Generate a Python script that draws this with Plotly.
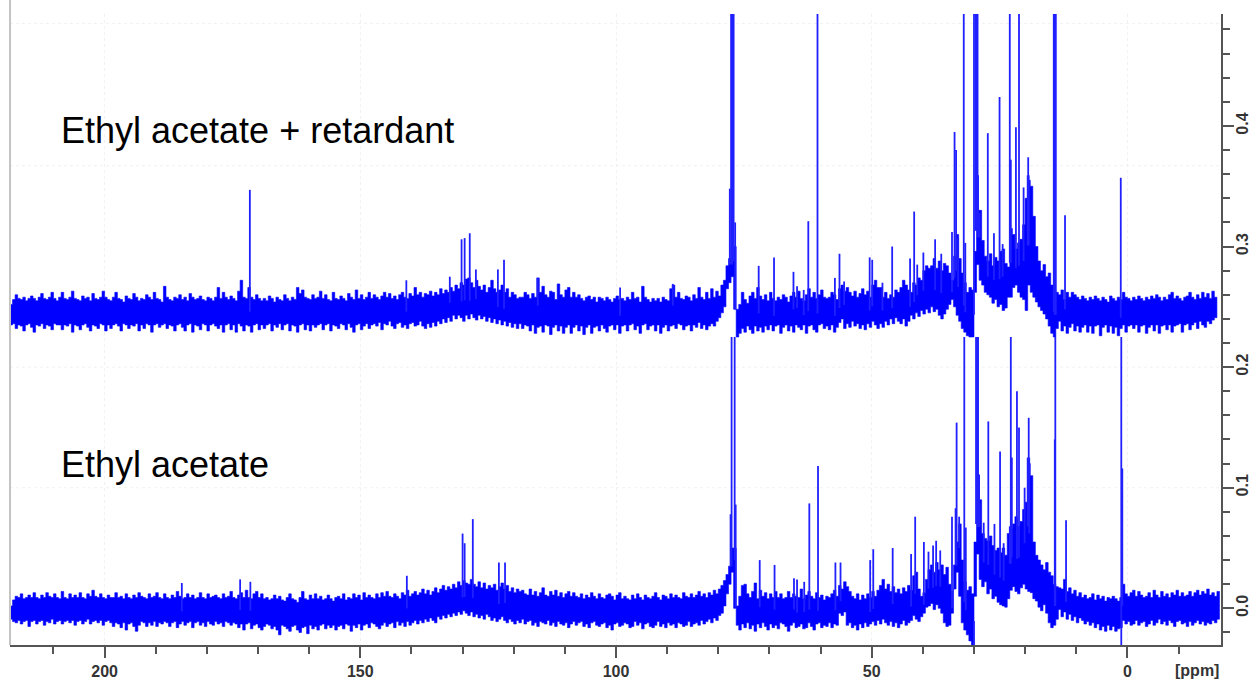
import plotly.graph_objects as go

BLUE = "#0000ff"
PEAK_BLUE = "#2020ff"
PPM_START = 218.5
PPM_STEP = 0.5
SCALE = 1000.0

# Envelope of the noise band, read every 0.5 ppm from 218.5 ppm, in thousandths of intensity
upper_hi = [
252,256,260,257,256,258,255,257,259,257,255,258,261,257,256,258,262,257,255,258,
262,257,256,258,263,257,256,255,259,257,258,255,261,257,256,258,263,258,256,255,
258,262,257,256,254,259,257,256,261,258,255,257,256,260,258,256,262,257,256,254,
267,258,256,255,258,257,260,256,258,255,261,258,256,257,259,256,255,258,257,255,
258,266,257,262,258,256,259,257,255,263,272,258,257,266,258,256,260,257,255,257,
255,259,257,254,258,256,255,260,257,255,258,256,266,261,264,258,257,256,260,257,
258,263,257,260,256,255,262,257,256,259,257,255,261,258,256,264,257,260,256,258,
262,257,260,258,256,259,262,258,261,257,259,256,260,262,258,257,261,259,266,260,
262,258,261,260,263,259,262,260,265,261,264,262,266,263,268,265,270,268,273,274,
270,266,272,267,264,268,262,266,272,265,262,264,268,262,265,258,262,260,257,258,
258,262,260,257,261,258,274,262,267,260,258,263,262,256,269,260,258,264,266,258,
262,258,260,257,255,258,259,256,258,254,258,257,255,258,256,254,257,259,256,257,
255,258,256,262,257,258,254,267,258,256,254,257,255,257,254,258,256,255,265,268,
258,262,257,256,259,258,255,260,257,266,258,256,262,257,265,258,263,259,268,272,
284,290,300,300,248,252,262,256,253,259,262,257,266,259,256,260,255,262,257,255,
258,256,260,258,254,259,262,258,263,257,255,260,265,258,262,257,260,264,258,257,
258,262,260,256,265,268,263,266,262,259,263,258,261,265,260,263,258,268,272,266,
266,258,262,257,260,258,264,262,266,272,268,264,262,270,268,274,272,280,284,282,
284,290,282,288,280,286,284,278,272,292,310,290,278,270,262,266,264,262,330,330,
305,292,288,294,284,291,288,296,298,286,283,315,310,298,303,306,318,340,355,350,
325,300,288,280,285,275,278,268,264,262,260,264,256,262,258,262,260,258,256,259,
257,255,258,256,259,257,255,258,256,254,259,257,255,258,256,262,258,257,255,258,
256,259,257,255,258,256,259,257,260,258,255,258,256,260,262,257,259,257,255,258,
259,262,258,256,260,257,262,258,261,257,263,258,255]

upper_lo = [
238,235,236,232,235,234,230,235,236,233,229,235,234,236,232,235,234,231,236,235,
235,231,235,234,236,229,235,234,231,235,236,233,230,235,234,232,236,235,230,235,
232,235,236,234,230,236,235,232,235,234,236,230,235,232,236,235,229,235,236,233,
235,236,232,235,234,230,235,236,233,230,235,236,229,235,234,231,236,235,230,235,
236,234,232,235,229,235,236,231,235,229,236,234,230,235,234,229,235,236,231,235,
232,235,236,230,235,233,236,231,235,236,230,235,234,229,235,236,231,235,230,235,
233,235,236,231,235,236,230,235,234,232,236,235,231,236,233,229,235,236,231,234,
236,232,235,236,234,237,231,236,235,238,234,232,236,237,233,235,232,236,237,234,
235,238,234,232,236,233,237,234,238,236,240,237,241,238,243,240,243,241,238,243,
240,244,241,239,243,240,242,238,241,237,240,236,239,235,238,234,237,233,236,232,
236,232,235,234,230,235,228,233,234,229,235,234,227,233,235,230,234,228,233,235,
228,233,235,230,234,227,233,235,228,233,234,230,235,232,229,234,235,231,235,228,
234,235,230,235,236,231,234,228,235,236,231,234,235,230,235,228,233,235,230,234,
235,232,236,235,231,234,235,230,235,233,237,232,235,231,234,236,234,238,241,245,
250,265,270,275,248,225,228,232,229,234,231,228,234,230,233,229,234,231,235,230,
234,235,228,233,235,230,234,229,235,233,231,235,228,234,235,231,229,235,236,232,
234,231,235,229,233,237,240,232,236,233,238,234,236,232,235,231,236,233,238,235,
232,236,233,238,235,240,236,241,238,236,240,234,238,243,240,245,242,247,244,248,
245,250,246,248,243,240,244,248,252,256,250,243,238,232,229,226,225,225,296,285,
272,268,262,260,258,253,256,250,252,247,249,258,258,266,268,262,258,256,247,268,
262,258,254,250,247,244,240,234,228,225,232,238,230,234,228,233,236,230,234,229,
233,235,229,234,228,234,235,226,233,235,229,234,228,233,226,232,235,229,234,235,
232,235,229,234,235,228,233,235,230,235,228,234,235,231,235,229,234,235,236,229,
235,236,231,235,237,232,238,235,233,238,236,239,241]

lower_hi = [
2,7,10,9,12,8,9,11,9,13,9,8,11,9,13,10,9,12,9,8,
14,9,8,12,9,11,9,13,9,8,12,10,15,10,9,12,9,8,11,9,
9,13,9,10,8,12,9,8,11,9,13,10,9,8,12,9,10,13,9,8,
12,9,8,11,9,14,10,8,9,12,9,11,8,9,13,9,8,12,9,10,
11,9,8,12,9,10,14,9,8,11,13,9,15,9,8,12,14,9,12,8,
9,7,8,11,8,10,7,6,9,12,8,7,5,9,14,8,7,11,8,12,
8,10,7,8,11,8,6,9,10,8,12,7,9,8,12,9,11,7,13,9,
11,9,8,12,9,13,10,14,10,9,12,10,8,13,11,15,10,12,14,11,
13,16,12,15,11,14,17,13,16,19,15,18,16,20,17,22,19,23,21,20,
24,20,18,22,17,21,16,19,17,20,15,18,21,16,19,14,17,13,16,14,
15,12,11,16,11,14,10,13,17,11,10,14,11,15,10,13,9,12,14,10,
13,10,9,12,8,11,9,13,10,8,12,9,8,11,12,10,7,11,13,8,
10,8,7,11,8,12,9,7,11,9,8,10,13,9,7,11,10,8,12,9,
11,9,8,13,10,9,12,9,11,14,10,12,9,13,11,15,12,16,19,23,
28,35,50,50,2,10,19,20,12,9,14,21,8,15,10,13,8,12,9,14,
9,12,8,9,14,9,12,10,9,16,8,11,14,10,8,13,9,11,7,10,
9,12,15,10,19,16,22,18,14,10,8,12,7,11,8,12,9,14,10,15,
19,24,16,20,14,18,13,16,12,17,14,19,15,27,30,16,10,13,24,32,
36,30,38,32,36,28,34,20,14,36,55,70,40,22,15,18,12,10,85,90,
62,58,56,60,52,48,50,46,50,44,62,66,70,76,68,72,82,88,120,110,
55,44,40,36,32,38,30,27,20,18,17,16,24,14,17,12,15,10,13,9,
11,8,9,12,7,11,8,10,6,9,8,10,8,6,9,20,12,10,13,15,
10,14,11,9,10,13,9,15,11,9,14,10,12,9,13,11,15,10,13,10,
11,14,10,13,15,11,14,12,16,11,13,10,14,12]

lower_lo = [
-5,-9,-11,-12,-10,-13,-11,-10,-15,-11,-10,-13,-11,-10,-14,-11,-12,-9,-13,-11,
-10,-13,-11,-10,-12,-10,-14,-11,-10,-13,-11,-9,-13,-11,-10,-12,-10,-14,-11,-10,
-12,-15,-12,-13,-16,-12,-18,-13,-12,-15,-19,-14,-11,-12,-15,-12,-14,-11,-15,-12,
-13,-11,-12,-15,-12,-11,-16,-13,-11,-14,-12,-11,-16,-12,-11,-14,-12,-15,-11,-13,
-14,-11,-13,-12,-15,-11,-12,-14,-12,-13,-16,-13,-18,-13,-12,-17,-14,-13,-16,-18,
-15,-13,-14,-17,-15,-18,-22,-14,-15,-17,-19,-15,-14,-18,-20,-16,-15,-21,-14,-17,
-15,-18,-14,-13,-17,-14,-16,-14,-18,-15,-14,-17,-13,-14,-19,-14,-16,-13,-18,-14,
-13,-16,-12,-13,-15,-17,-14,-12,-15,-13,-12,-16,-11,-14,-12,-15,-11,-14,-12,-10,
-13,-10,-12,-9,-11,-8,-10,-12,-7,-9,-6,-8,-5,-7,-4,-6,-3,-5,-2,-4,
-6,-3,-7,-5,-8,-6,-9,-5,-7,-10,-8,-11,-9,-7,-10,-12,-9,-11,-13,-10,
-12,-9,-13,-11,-10,-14,-12,-15,-11,-12,-13,-10,-14,-12,-15,-11,-13,-14,-12,-16,
-13,-11,-14,-12,-11,-15,-13,-16,-12,-11,-14,-15,-13,-12,-16,-14,-18,-13,-12,-15,
-14,-12,-13,-16,-15,-11,-14,-12,-17,-13,-12,-15,-16,-14,-11,-15,-13,-16,-12,-14,
-13,-16,-12,-13,-15,-14,-11,-15,-13,-12,-14,-10,-13,-11,-9,-12,-8,-10,-6,-4,
2,12,20,30,0,-14,-18,-13,-16,-12,-17,-14,-19,-13,-16,-12,-15,-18,-13,-16,
-14,-17,-12,-13,-15,-19,-14,-12,-16,-15,-13,-17,-16,-12,-15,-18,-13,-12,-16,-14,
-15,-12,-16,-13,-14,-4,-6,-3,-14,-12,-16,-14,-18,-13,-16,-12,-15,-13,-11,-14,
-10,-13,-9,-12,-14,-11,-15,-12,-16,-13,-10,-14,-12,-10,-6,-9,-11,-7,-4,1,
2,4,-1,3,0,-4,-12,-15,-14,-4,16,30,10,-12,-18,-22,-27,-31,55,45,
24,18,22,12,16,8,10,5,3,2,1,8,15,18,14,12,17,20,16,14,
13,8,6,1,-2,3,-4,-12,-16,-14,-9,-1,-7,-3,-9,-5,-10,-7,-12,-8,
-10,-13,-11,-14,-12,-16,-13,-18,-15,-19,-14,-18,-15,-19,-17,-16,-10,-13,-11,-14,
-13,-10,-14,-12,-11,-15,-13,-10,-14,-12,-9,-13,-11,-14,-10,-12,-15,-11,-10,-13,
-12,-15,-11,-14,-12,-10,-13,-11,-14,-12,-13,-10,-12,-9]

# Resolved lines: position in ppm and tip intensity in thousandths
upper_peak_ppm = [171.6,141.0,132.5,130.2,129.6,128.6,127.4,123.1,121.9,115.3,99.2,88.9,
77.75,77.5,77.3,77.0,76.7,72.1,69.1,65.3,64.6,63.3,62.4,60.6,57.2,56.3,55.4,50.4,49.9,47.9,46.0,
42.5,41.7,41.1,39.9,37.6,36.4,34.3,33.8,33.5,33.1,32.0,31.7,30.0,29.7,29.5,29.3,29.2,28.9,
27.3,26.1,25.0,24.4,23.0,22.8,21.8,21.2,20.3,19.5,19.4,19.3,14.4,14.2,14.0,12.2,1.3]
upper_peak_top = [347,272,275,306,307,311,281,281,289,274,266,269,
348,600,600,600,320,284,291,279,267,264,321,600,274,294,271,291,289,270,300,
290,329,285,295,306,294,312,395,380,307,600,303,600,600,600,600,359,328,
394,311,424,302,600,372,399,600,349,359,374,359,600,600,600,326,357]

lower_peak_ppm = [184.9,173.5,171.5,140.9,130.0,129.6,128.0,122.9,121.7,
77.6,77.4,76.8,76.6,71.9,69.0,65.2,64.6,63.2,62.2,60.5,57.1,56.1,50.3,49.7,45.9,
42.3,41.5,39.8,38.9,38.0,37.4,36.6,34.3,33.6,33.4,32.9,31.9,31.6,30.0,29.6,29.4,29.2,29.0,28.9,
28.1,27.2,26.0,24.9,24.2,23.0,22.8,22.6,21.6,21.2,20.1,19.5,19.3,19.2,14.2,14.1,12.0,1.2,1.2,1.0]
lower_peak_top = [21,24,22,27,62,54,74,38,38,
78,225,225,86,40,36,25,24,22,87,118,38,38,40,49,50,
45,76,55,47,52,56,48,76,83,154,76,225,67,-31,225,225,225,111,87,
71,155,70,130,54,68,225,125,180,150,100,125,158,125,140,225,73,225,-31,116]

x_ticks = [200, 150, 100, 50, 0]
y_ticks = [0.0, 0.1, 0.2, 0.3, 0.4]
y_grid = [0.1, 0.2, 0.367, 0.485]
label_top = "Ethyl acetate + retardant"
label_bottom = "Ethyl acetate"
unit_label = "[ppm]"


def ppm_grid(values):
    return [PPM_START - PPM_STEP * i for i in range(len(values))]


def band_trace(hi, lo):
    xs = ppm_grid(hi) + ppm_grid(lo)[::-1]
    ys = [v / SCALE for v in hi] + [v / SCALE for v in lo[::-1]]
    return go.Scatter(x=xs, y=ys, mode="lines", fill="toself", fillcolor=BLUE,
                      line=dict(color=BLUE, width=0.6, shape="hv"),
                      hoverinfo="skip", showlegend=False)


def peak_trace(ppm, top, hi, lo):
    # each line starts inside the band at its own position
    xs, ys = [], []
    for p, t in zip(ppm, top):
        i = min(round((PPM_START - p) / PPM_STEP), len(hi) - 1)
        base = (hi[i] + lo[i]) / 2
        xs += [p, p, None]
        ys += [base / SCALE, t / SCALE, None]
    return go.Scatter(x=xs, y=ys, mode="lines", line=dict(color=PEAK_BLUE, width=1.8),
                      hoverinfo="skip", showlegend=False)


X_RANGE = [218.5, -18.3]
Y_RANGE = [-0.0304, 0.4928]

fig = go.Figure()

gx, gy = [], []
for v in y_grid:
    gx += [X_RANGE[0], X_RANGE[1], None]
    gy += [v, v, None]
fig.add_trace(go.Scatter(x=gx, y=gy, mode="lines", hoverinfo="skip", showlegend=False,
                         line=dict(color="#f1f1f1", width=1, dash="dot")))

fig.add_trace(band_trace(upper_hi, upper_lo))
fig.add_trace(peak_trace(upper_peak_ppm, upper_peak_top, upper_hi, upper_lo))
fig.add_trace(band_trace(lower_hi, lower_lo))
fig.add_trace(peak_trace(lower_peak_ppm, lower_peak_top, lower_hi, lower_lo))

tick_font = dict(family="Liberation Sans", size=16, color="#333333", weight="bold")

fig.update_layout(
    width=1251, height=681,
    margin=dict(l=10, r=29.6, t=14, b=36, autoexpand=False),
    paper_bgcolor="white", plot_bgcolor="white",
    showlegend=False,
    xaxis=dict(range=X_RANGE, tickmode="array", tickvals=x_ticks,
               ticktext=[str(v) for v in x_ticks],
               ticks="outside", ticklen=11, tickwidth=1.5, tickcolor="#555555",
               showline=True, linecolor="#555555", linewidth=1.5,
               showgrid=True, gridcolor="#f1f1f1", griddash="dot", gridwidth=1,
               zeroline=False, tickfont=tick_font,
               minor=dict(dtick=10, ticks="outside", ticklen=7, tickwidth=1.5,
                          tickcolor="#555555", showgrid=False)),
    yaxis=dict(range=Y_RANGE, side="right", tickmode="array", tickvals=y_ticks,
               ticktext=["%.1f" % v for v in y_ticks], tickangle=-90,
               ticks="outside", ticklen=11, tickwidth=1.5, tickcolor="#555555",
               ticklabelstandoff=-5,
               showline=True, linecolor="#555555", linewidth=1.5,
               showgrid=False, zeroline=False, tickfont=tick_font,
               minor=dict(dtick=0.02, tick0=0, ticks="outside", ticklen=7, tickwidth=1.5,
                          tickcolor="#555555", showgrid=False)),
    shapes=[dict(type="line", xref="paper", yref="paper", x0=0, x1=0, y0=0, y1=1.022,
                 line=dict(color="#c4c4c4", width=2))],
    annotations=[
        dict(text=label_top, xref="paper", yref="paper", x=0.0404, y=0.8146,
             xanchor="left", yanchor="middle", showarrow=False,
             font=dict(family="Liberation Sans", size=36, color="#000000")),
        dict(text=label_bottom, xref="paper", yref="paper", x=0.0404, y=0.2868,
             xanchor="left", yanchor="middle", showarrow=False,
             font=dict(family="Liberation Sans", size=36, color="#000000")),
        dict(text=unit_label, xref="paper", yref="paper", x=0.9798, y=-0.0412,
             xanchor="center", yanchor="middle", showarrow=False,
             font=tick_font),
    ],
)

fig.write_html("out.html", config=dict(displayModeBar=False),
               post_script="document.body.style.margin='0';document.body.style.overflow='hidden';")
